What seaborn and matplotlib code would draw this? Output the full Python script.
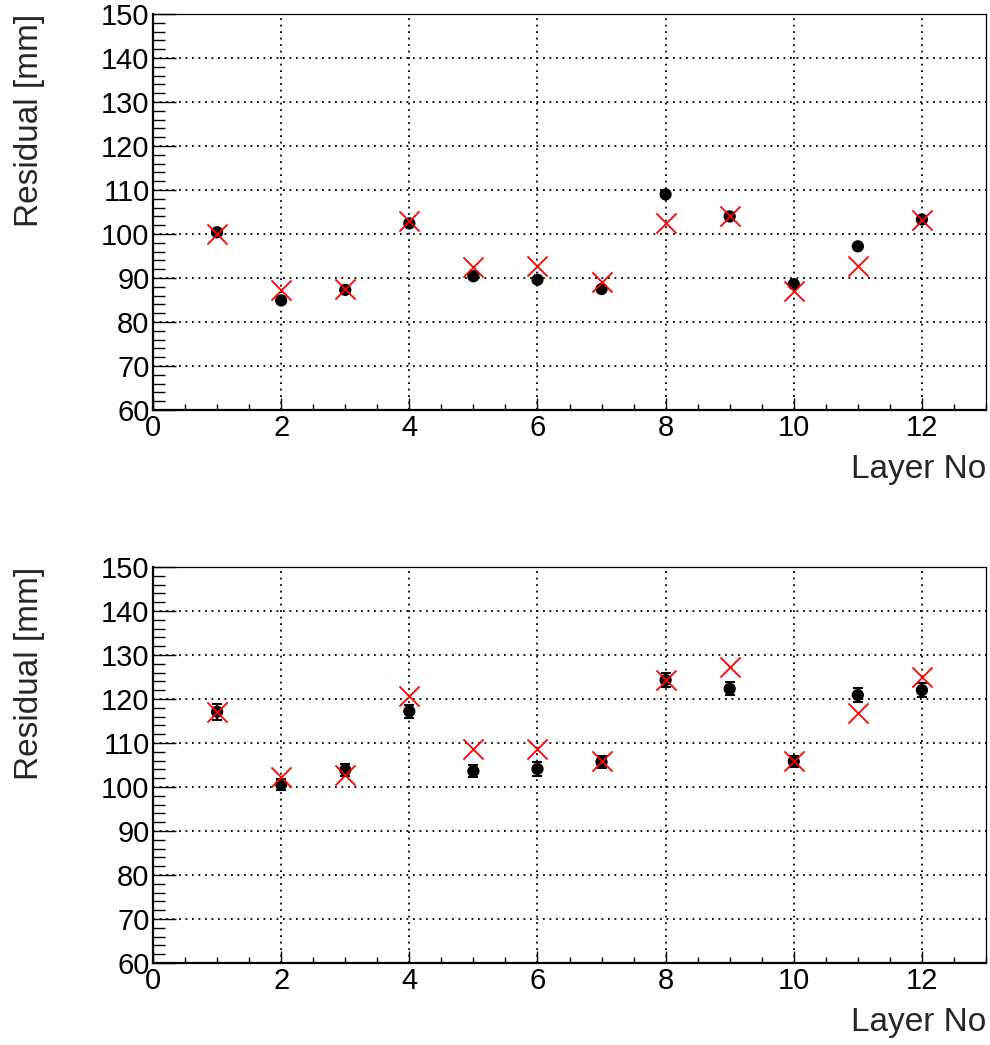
import numpy as np
import pandas as pd
import matplotlib
matplotlib.use("Agg")
import matplotlib.pyplot as plt
from matplotlib.ticker import MultipleLocator
import seaborn as sns

# ---- data ----
layers = [1, 2, 3, 4, 5, 6, 7, 8, 9, 10, 11, 12]

top_measured = [100.4, 84.9, 87.3, 102.4, 90.4, 89.6, 87.5, 109.0, 104.0, 88.6, 97.2, 103.3]
top_errors = [0.3, 0.3, 0.3, 0.3, 0.3, 0.3, 0.3, 0.3, 0.3, 0.3, 0.3, 0.3]
top_model = [99.9, 87.3, 87.4, 103.0, 92.6, 92.8, 89.0, 102.4, 104.1, 87.1, 92.7, 103.2]

bot_measured = [117.1, 100.6, 103.9, 117.2, 103.6, 104.1, 105.7, 124.3, 122.3, 105.8, 120.9, 122.0]
bot_errors = [1.8, 1.2, 1.4, 1.5, 1.3, 1.5, 1.3, 1.6, 1.5, 1.3, 1.5, 1.6]
bot_model = [117.0, 102.3, 102.7, 120.7, 108.6, 108.6, 105.8, 124.3, 127.3, 105.8, 116.8, 125.1]

x_label = "Layer No"
y_label = "Residual [mm]"

sns.set_style("ticks")
plt.rcParams['font.family'] = ['Liberation Sans', 'DejaVu Sans']

W, H = 990, 1045
fig = plt.figure(figsize=(W / 100, H / 100), dpi=100)

def px_axes(left, top, right, bottom):
    return fig.add_axes([left / W, 1 - bottom / H, (right - left) / W, (bottom - top) / H])

ax_top = px_axes(153, 14, 986, 410)
ax_bot = px_axes(153, 567, 986, 963)

panels = [
    (ax_top, top_measured, top_errors, top_model),
    (ax_bot, bot_measured, bot_errors, bot_model),
]

for ax, meas, err, model in panels:
    df_m = pd.DataFrame({"layer": layers, "value": meas, "err": err})
    df_c = pd.DataFrame({"layer": layers, "value": model})

    ax.errorbar(df_m["layer"], df_m["value"], yerr=df_m["err"], fmt="none",
                ecolor="black", elinewidth=1.5, capsize=3.5, capthick=1.5, zorder=3)
    sns.scatterplot(data=df_m, x="layer", y="value", ax=ax, color="black",
                    s=78, edgecolor="none", zorder=4, legend=False)
    sns.scatterplot(data=df_c, x="layer", y="value", ax=ax, color="red",
                    marker="x", s=210, linewidth=1.3, zorder=5, legend=False)

    ax.set_xlim(0, 13)
    ax.set_ylim(60, 150)
    ax.xaxis.set_major_locator(MultipleLocator(2))
    ax.xaxis.set_minor_locator(MultipleLocator(0.5))
    ax.yaxis.set_major_locator(MultipleLocator(10))
    ax.yaxis.set_minor_locator(MultipleLocator(2))

    ax.grid(which="major", color="black", linestyle=(0, (1.0, 2.6)), linewidth=1.3)
    ax.set_axisbelow(True)

    ax.tick_params(axis="both", which="both", direction="in", colors="black",
                   top=False, right=False, labelsize=21)
    ax.tick_params(axis="y", which="major", length=16.5, width=1.0, pad=2.5)
    ax.tick_params(axis="y", which="minor", length=8.6, width=1.0)
    ax.tick_params(axis="x", which="major", length=8.6, width=1.0, pad=3)
    ax.tick_params(axis="x", which="minor", length=4.3, width=1.0)

    for side in ["left", "bottom"]:
        ax.spines[side].set_linewidth(1.6)
        ax.spines[side].set_color("black")
    for side in ["top", "right"]:
        ax.spines[side].set_linewidth(0.9)
        ax.spines[side].set_color("black")

    ax.set_xlabel(x_label, fontsize=24, loc="right")
    ax.set_ylabel(y_label, fontsize=24, loc="top")
    ax.xaxis.set_label_coords(1.0, -0.112)
    ax.yaxis.set_label_coords(-0.13, 1.0)

fig.savefig("out.png", dpi=100, facecolor="white")
